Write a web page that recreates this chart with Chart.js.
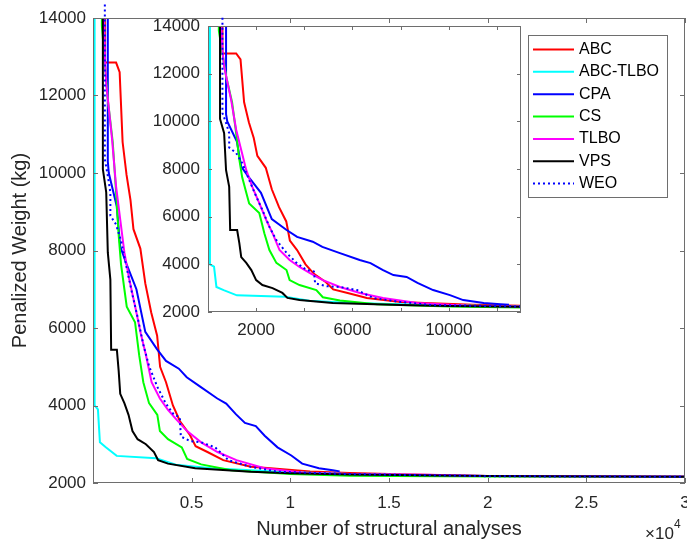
<!DOCTYPE html>
<html>
<head>
<meta charset="utf-8">
<script src="https://cdn.jsdelivr.net/npm/chart.js@4.4.0/dist/chart.umd.min.js"></script>
<style>
html,body{margin:0;padding:0;background:#fff;}
#wrap{position:relative;width:687px;height:543px;}
#main{position:absolute;left:0;top:0;}
#inset{position:absolute;left:130px;top:0;}
</style>
</head>
<body>
<div id="wrap">
<canvas id="main" width="687" height="543"></canvas>
<canvas id="inset" width="400" height="345"></canvas>
</div>
<script>
const names=['ABC','ABC-TLBO','CPA','CS','TLBO','VPS','WEO'];
const colors=['#ff0000','#00ffff','#0000ff','#00ff00','#ff00ff','#000000','#0000ff'];

// [structural analyses, penalized weight]
const abc=[[600,14000],[600,12850],[1170,12850],[1350,12600],[1500,10800],[1700,9950],[1900,9300],[2050,8550],[2400,8050],[2650,7150],[2950,6400],[3250,5800],[3400,5000],[3700,4600],[4050,4000],[4400,3600],[4900,3250],[5200,2950],[5800,2800],[6600,2590],[8000,2420],[9000,2380],[11000,2300],[13000,2260],[16000,2220],[20000,2180],[30000,2165]];
const abcTlbo=[[80,14000],[80,4000],[250,3900],[350,3050],[650,2920],[1200,2700],[3200,2640],[4200,2470],[6000,2380],[8000,2330],[10000,2280],[13000,2230],[20000,2180],[30000,2165]];
const cpa=[[750,14000],[750,10300],[800,10000],[1200,9150],[1380,8100],[1700,7650],[2200,7000],[2650,5900],[3250,5450],[3700,5150],[4350,4950],[4750,4730],[5450,4480],[6300,4180],[6750,4050],[7250,3770],[7700,3550],[8250,3470],[8700,3220],[9350,2920],[10050,2710],[10600,2500],[11450,2380],[12150,2330],[12500,2300]];
const cs=[[450,14000],[450,13800],[750,11900],[1000,10800],[1170,9500],[1300,8400],[1420,7650],[1590,7000],[1710,6550],[2130,6150],[2340,5300],[2550,4600],[2840,4060],[3260,3760],[3390,3340],[3800,3130],[4500,2920],[4770,2620],[5480,2480],[7000,2330],[10000,2230],[13000,2190],[20000,2170],[30000,2160]];
const tlbo=[[550,14000],[600,13000],[670,12300],[960,10900],[1170,9650],[1380,8800],[1590,7950],[1840,7250],[2130,6570],[2420,5860],[2680,5310],[2970,4600],[3390,4180],[3800,3890],[4220,3640],[4770,3340],[5480,3050],[6310,2800],[7270,2590],[8690,2380],[10800,2260],[13000,2230],[17000,2210],[20000,2180],[30000,2165]];
const vps=[[500,14000],[500,10100],[670,9500],[750,7950],[880,7250],[920,5440],[1210,5440],[1300,4900],[1380,4300],[1590,4060],[1800,3760],[2000,3340],[2260,3130],[2680,3000],[3090,2800],[3300,2590],[3800,2500],[5180,2380],[8000,2290],[10000,2250],[13000,2220],[20000,2180],[30000,2160]];
const weo=[[600,14350],[600,10350],[750,9930],[880,9500],[880,8900],[1170,8670],[1420,8250],[1710,7540],[2010,6830],[2260,6280],[2550,5570],[2840,5020],[3260,4480],[3680,4060],[4100,3760],[4400,3700],[4450,3200],[4930,3080],[5480,3050],[6190,2920],[6440,2800],[6860,2590],[7980,2420],[9360,2290],[13000,2230],[20000,2175],[30000,2160]];
const series=[abc,abcTlbo,cpa,cs,tlbo,vps,weo];

const mainXTicks=[0,5000,10000,15000,20000,25000,30000];
const yTicks=[2000,4000,6000,8000,10000,12000,14000];
const insetXTicks=[0,2000,4000,6000,8000,10000,12000];
const insetXLabels=[2000,6000,10000];

Chart.defaults.font.family='"Liberation Sans", Arial, sans-serif';
Chart.defaults.color='#262626';

function makeSets(){
  return series.map((s,i)=>{
    const d={label:names[i],data:s.map(p=>({x:p[0],y:p[1]})),borderColor:colors[i],borderWidth:2,
      pointRadius:0,tension:0,fill:false,order:6-i};
    if(i===6){d.borderDash=[2,3];d.clip=false;}
    return d;
  });
}

const boxTicks={
  id:'boxTicks',
  beforeDraw(chart,args,opts){
    if(!opts.fill) return;
    const a=chart.chartArea,c=chart.ctx;
    c.save();c.fillStyle='#fff';c.fillRect(a.left,a.top,a.width,a.height);c.restore();
  },
  afterDraw(chart,args,opts){
    const c=chart.ctx,a=chart.chartArea,x=chart.scales.x,y=chart.scales.y,len=opts.len||5;
    c.save();
    c.strokeStyle='#6e6e6e';c.lineWidth=1;
    c.strokeRect(Math.round(a.left)+0.5,Math.round(a.top)+0.5,Math.round(a.width)-1,Math.round(a.height)-1);
    c.beginPath();
    x.ticks.forEach(t=>{const p=Math.round(x.getPixelForValue(t.value))+0.5;
      c.moveTo(p,a.bottom);c.lineTo(p,a.bottom-len);c.moveTo(p,a.top);c.lineTo(p,a.top+len);});
    y.ticks.forEach(t=>{const p=Math.round(y.getPixelForValue(t.value))+0.5;
      c.moveTo(a.left,p);c.lineTo(a.left+len,p);c.moveTo(a.right,p);c.lineTo(a.right-len,p);});
    c.stroke();
    c.restore();
  }
};

const legendBox={
  id:'legendBox',
  afterDraw(chart){
    const c=chart.ctx;
    c.save();
    c.fillStyle='#fff';c.fillRect(528,35,139,162);
    c.strokeStyle='#6e6e6e';c.lineWidth=1;c.strokeRect(528.5,35.5,139,162);
    c.font='16px "Liberation Sans", Arial, sans-serif';c.textBaseline='middle';
    names.forEach((n,i)=>{
      const yy=49.5+i*22.35;
      c.strokeStyle=colors[i];c.lineWidth=2;c.setLineDash(i===6?[2,3]:[]);
      c.beginPath();c.moveTo(533,yy);c.lineTo(574,yy);c.stroke();
      c.setLineDash([]);c.fillStyle='#000';c.fillText(n,579,yy);
    });
    // axis exponent
    c.fillStyle='#262626';c.textBaseline='alphabetic';
    c.font='17px "Liberation Sans", Arial, sans-serif';c.fillText('\u00d710',645,539);
    c.font='12px "Liberation Sans", Arial, sans-serif';c.fillText('4',674,528);
    c.restore();
  }
};

function fixTicks(vals){return s=>{s.ticks=vals.map(v=>({value:v}));};}

new Chart(document.getElementById('main'),{
  type:'line',
  data:{datasets:makeSets()},
  options:{
    responsive:false,animation:false,
    layout:{padding:{top:18,right:2,left:0,bottom:0}},
    plugins:{legend:{display:false},tooltip:{enabled:false},boxTicks:{len:5}},
    scales:{
      x:{type:'linear',min:0,max:30000,
        afterBuildTicks:fixTicks(mainXTicks),
        afterFit:s=>{s.height=60;s.paddingLeft=0;s.paddingRight=0;},
        grid:{display:false,drawTicks:false},border:{display:false},
        ticks:{autoSkip:false,maxRotation:0,padding:10,font:{size:17},
          callback:v=>v===0?'':String(v/10000)},
        title:{display:true,text:'Number of structural analyses',font:{size:20},padding:{top:0,bottom:2}}},
      y:{type:'linear',min:2000,max:14000,
        afterBuildTicks:fixTicks(yTicks),
        afterFit:s=>{s.width=93;s.paddingTop=0;s.paddingBottom=0;},
        grid:{display:false,drawTicks:false},border:{display:false},
        ticks:{autoSkip:false,padding:7,font:{size:17},callback:v=>String(v)},
        title:{display:true,text:'Penalized Weight (kg)',font:{size:20},padding:{top:8,bottom:0}}}
    }
  },
  plugins:[boxTicks,legendBox]
});

new Chart(document.getElementById('inset'),{
  type:'line',
  data:{datasets:makeSets()},
  options:{
    responsive:false,animation:false,
    layout:{padding:{top:26,right:9,left:0,bottom:0}},
    plugins:{legend:{display:false},tooltip:{enabled:false},boxTicks:{len:4,fill:true}},
    scales:{
      x:{type:'linear',min:0,max:13000,
        afterBuildTicks:fixTicks(insetXTicks),
        afterFit:s=>{s.height=33;s.paddingLeft=0;s.paddingRight=0;},
        grid:{display:false,drawTicks:false},border:{display:false},
        ticks:{autoSkip:false,maxRotation:0,padding:8,font:{size:17},
          callback:v=>insetXLabels.includes(v)?String(v):''}},
      y:{type:'linear',min:2000,max:14000,
        afterBuildTicks:fixTicks(yTicks),
        afterFit:s=>{s.width=78;s.paddingTop=0;s.paddingBottom=0;},
        grid:{display:false,drawTicks:false},border:{display:false},
        ticks:{autoSkip:false,padding:8,font:{size:17},callback:v=>String(v)}}
    }
  },
  plugins:[boxTicks]
});
</script>
</body>
</html>
